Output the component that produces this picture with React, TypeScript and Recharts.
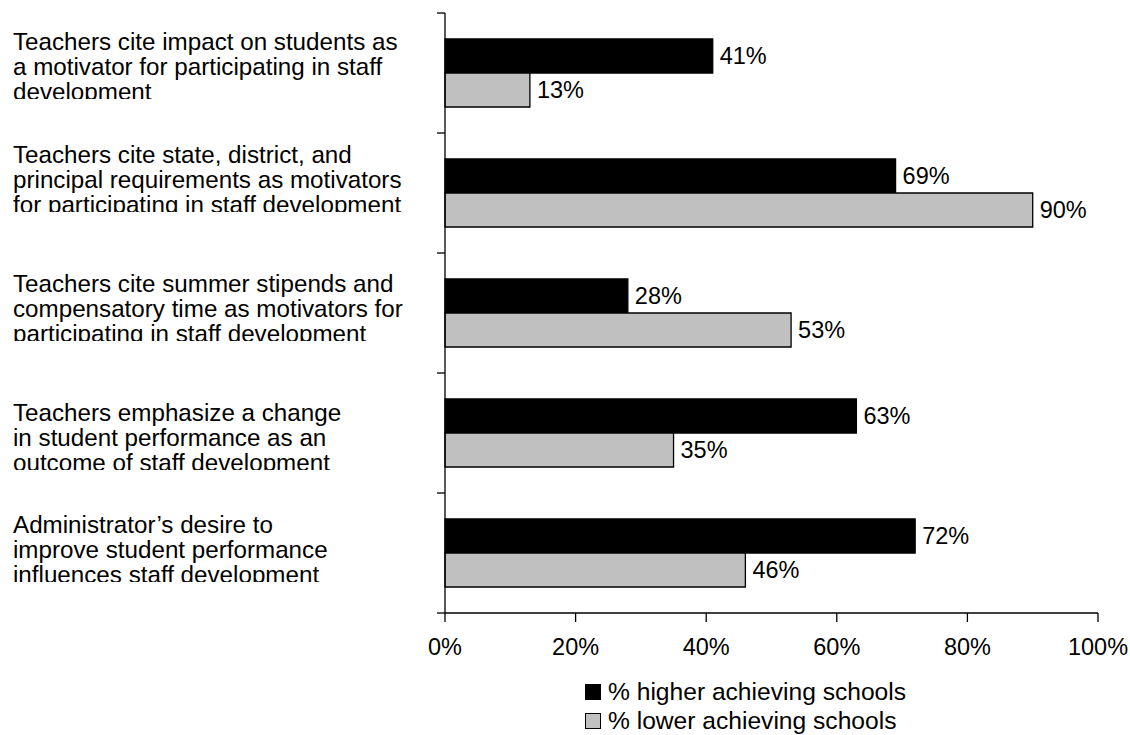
import { BarChart, Bar, XAxis, YAxis, Legend, LabelList } from 'recharts'

const categoryLines = [
  ['Teachers cite impact on students as', 'a motivator for participating in staff', 'development'],
  ['Teachers cite state, district, and', 'principal requirements as motivators', 'for participating in staff development'],
  ['Teachers cite summer stipends and', 'compensatory time as motivators for', 'participating in staff development'],
  ['Teachers emphasize a change', 'in student performance as an', 'outcome of staff development'],
  ['Administrator’s desire to', 'improve student performance', 'influences staff development'],
]
const higherValues = [41, 69, 28, 63, 72]
const lowerValues = [13, 90, 53, 35, 46]
const xTicks = [0, 20, 40, 60, 80, 100]

const data = categoryLines.map((lines, i) => ({
  name: lines.join(' '),
  higher: higherValues[i],
  lower: lowerValues[i],
}))

const FONT = "'Liberation Sans', Arial, sans-serif"
const FS = 23.5
// first baseline of each label, relative to the band centre (labels sit a bit unevenly)
const labelShift = [-23, -30, -21, -12, -20]
const LINE = 25

function CategoryTick(props: any) {
  const { x, y, index, visibleTicksCount, payload } = props
  const half = payload?.offset || 60
  const b0 = y + labelShift[index]
  const lines = categoryLines[index]
  const clipId = `lbl-clip-${index}`
  const clipBottom = b0 + LINE * (lines.length - 1) - 1
  return (
    <g>
      <line x1={x - 8} x2={x} y1={y - half} y2={y - half} stroke="#000" strokeWidth={1.3} />
      {index === visibleTicksCount - 1 && (
        <line x1={x - 8} x2={x} y1={y + half} y2={y + half} stroke="#000" strokeWidth={1.3} />
      )}
      <defs>
        <clipPath id={clipId}>
          <rect x={0} y={b0 - 30} width={438} height={clipBottom - (b0 - 30)} />
        </clipPath>
      </defs>
      <text clipPath={`url(#${clipId})`} fontFamily={FONT} fontSize={24.2} fill="#000">
        {lines.map((l, i) => (
          <tspan key={i} x={13} y={b0 + i * LINE}>{l}</tspan>
        ))}
      </text>
    </g>
  )
}

function LegendBox(props: any) {
  const { payload } = props
  return (
    <div style={{ fontFamily: FONT, fontSize: 24.6, color: '#000' }}>
      {(payload || []).map((p: any) => (
        <div key={p.value} style={{ display: 'flex', alignItems: 'center', height: 29, whiteSpace: 'nowrap' }}>
          <span
            style={{
              display: 'inline-block',
              width: 14,
              height: 14,
              background: p.color,
              border: '1px solid #000',
              marginRight: 7,
            }}
          />
          <span>{p.value}</span>
        </div>
      ))}
    </div>
  )
}

export default function App() {
  return (
    <div style={{ position: 'relative', width: 1130, height: 735 }}>
      <style>{'body { margin: 0; }'}</style>
      <BarChart
        width={1130}
        height={735}
        data={data}
        layout="vertical"
        margin={{ top: 13, right: 32, bottom: 92, left: 0 }}
        barGap={0}
        barCategoryGap={26}
        style={{ overflow: 'visible' }}
      >
        <XAxis
          type="number"
          domain={[0, 100]}
          ticks={xTicks}
          tickFormatter={(v) => `${v}%`}
          tickSize={9}
          tickMargin={16}
          height={30}
          stroke="#000"
          axisLine={{ stroke: '#000', strokeWidth: 1.3 }}
          tickLine={{ stroke: '#000', strokeWidth: 1.3 }}
          tick={{ fill: '#000', fontFamily: FONT, fontSize: FS }}
        />
        <YAxis
          type="category"
          dataKey="name"
          width={445}
          tickSize={0}
          tickMargin={0}
          tickLine={false}
          axisLine={{ stroke: '#000', strokeWidth: 1.3 }}
          tick={<CategoryTick />}
          interval={0}
        />
        <Legend
          layout="vertical"
          align="center"
          verticalAlign="middle"
          content={<LegendBox />}
          wrapperStyle={{ position: 'absolute', left: 585, top: 677, width: 'auto', height: 'auto' }}
        />
        <Bar dataKey="higher" name="% higher achieving schools" fill="#000" stroke="#000" strokeWidth={1.3} isAnimationActive={false}>
          <LabelList dataKey="higher" position="right" offset={7} formatter={(v: any) => `${v}%`} fill="#000" fontFamily={FONT} fontSize={FS} />
        </Bar>
        <Bar dataKey="lower" name="% lower achieving schools" fill="#c0c0c0" stroke="#000" strokeWidth={1.3} isAnimationActive={false}>
          <LabelList dataKey="lower" position="right" offset={7} formatter={(v: any) => `${v}%`} fill="#000" fontFamily={FONT} fontSize={FS} />
        </Bar>
      </BarChart>
    </div>
  )
}
